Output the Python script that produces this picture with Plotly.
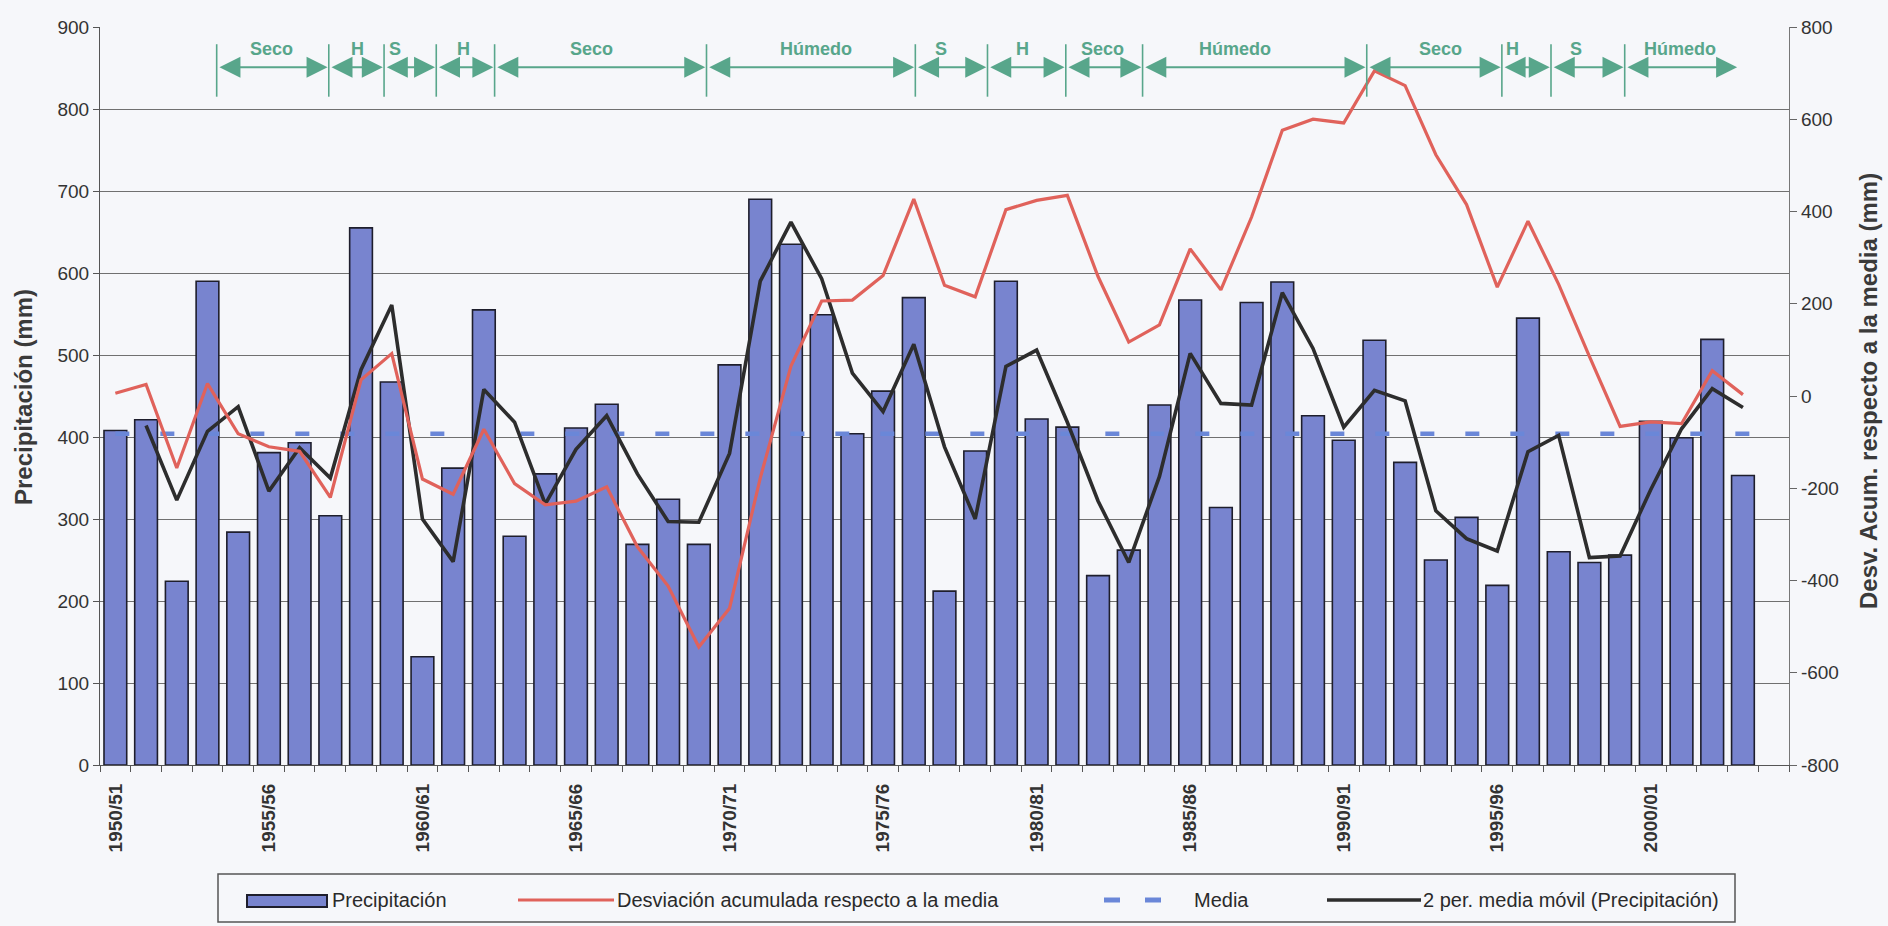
import plotly.graph_objects as go

# Hydrological years (categories of the x axis)
anios = [
    "1950/51", "1951/52", "1952/53", "1953/54", "1954/55", "1955/56", "1956/57", "1957/58",
    "1958/59", "1959/60", "1960/61", "1961/62", "1962/63", "1963/64", "1964/65", "1965/66",
    "1966/67", "1967/68", "1968/69", "1969/70", "1970/71", "1971/72", "1972/73", "1973/74",
    "1974/75", "1975/76", "1976/77", "1977/78", "1978/79", "1979/80", "1980/81", "1981/82",
    "1982/83", "1983/84", "1984/85", "1985/86", "1986/87", "1987/88", "1988/89", "1989/90",
    "1990/91", "1991/92", "1992/93", "1993/94", "1994/95", "1995/96", "1996/97", "1997/98",
    "1998/99", "1999/00", "2000/01", "2001/02", "2002/03", "2003/04", "2004/05",
]

# Annual precipitation (mm)
precipitacion = [
    408, 421, 224, 590, 284, 381, 393, 304, 655, 467,
    132, 362, 555, 279, 355, 411, 440, 269, 324, 269,
    488, 690, 635, 549, 404, 456, 570, 212, 383, 590,
    422, 412, 231, 262, 439, 567, 314, 564, 589, 426,
    396, 518, 369, 250, 302, 219, 545, 260, 247, 256,
    419, 399, 519, 353,
]

# Accumulated deviation from the mean (mm, right axis)
desviacion_acumulada = [
    6, 25, -156, 27, -82, -110, -120, -220, 35, 92,
    -180, -213, -72, -190, -236, -228, -197, -327, -412, -544,
    -460, -178, 65, 206, 208, 261, 427, 240, 215, 404,
    424, 435, 259, 117, 154, 319, 230, 388, 576, 600,
    592, 705, 673, 523, 415, 236, 379, 242, 86, -66,
    -56, -60, 55, 3,
]

# 2-period moving average of precipitation (starts at the second year)
media_movil = [
    414, 323, 407, 437, 334, 387, 350, 482, 561,
    300, 248, 458, 418, 318, 385, 426, 355, 297, 296,
    380, 590, 662, 593, 478, 431, 513, 388, 300, 486,
    506, 418, 322, 247, 352, 502, 441, 439, 576, 508,
    412, 457, 444, 310, 276, 261, 382, 402, 253, 255,
    336, 410, 459, 436,
]

media_precipitacion = 404

# Dry / wet periods drawn across the top band (positions in year index, 0 = 1950/51)
limites_periodo = [3.3, 6.95, 8.75, 10.45, 12.35, 19.25, 26.05, 28.4, 30.95,
                   33.45, 40.75, 45.15, 46.75, 49.15, 52.85]
etiquetas_periodo = ["Seco", "H", "S", "H", "Seco", "Húmedo", "S", "H", "Seco",
                     "Húmedo", "Seco", "H", "S", "Húmedo"]
posicion_etiqueta = [5.1, 7.9, 9.1, 11.33, 15.5, 22.8, 26.9, 29.55, 32.15,
                     36.45, 43.15, 45.5, 47.55, 50.95]

# Tick values for axes
ticks_izq = list(range(0, 901, 100))
ticks_der = list(range(-800, 801, 200))

# Styles
W, H = 1888, 926
L, R, T, B = 100, 1789, 27, 765
FONT = "Arial, Liberation Sans, sans-serif"
C_BAR = "#7884cf"
C_BAR_LINE = "#1e1e2c"
C_RED = "#e0625b"
C_BLACK = "#2d2d2d"
C_MEDIA = "#6a87d8"
C_GREEN = "#58a68b"
C_GRID = "#707070"
C_BG = "#f6f7fa"


def px(x):
    return (x - L) / (R - L)


def py(y):
    return (B - y) / (B - T)


n_cat = len(anios)
x_bar = list(range(len(precipitacion)))
x_mm = list(range(1, 1 + len(media_movil)))

fig = go.Figure()

fig.add_trace(go.Bar(
    x=x_bar, y=precipitacion, name="Precipitación",
    marker=dict(color=C_BAR, line=dict(color=C_BAR_LINE, width=1.6)),
    width=0.74, yaxis="y", showlegend=False,
))
fig.add_trace(go.Scatter(
    x=[0, n_cat - 1], y=[media_precipitacion, media_precipitacion], name="Media",
    mode="lines", line=dict(color=C_MEDIA, width=4.5, dash="14px,31px"),
    yaxis="y", showlegend=False,
))
fig.add_trace(go.Scatter(
    x=x_mm, y=media_movil, name="2 per. media móvil (Precipitación)",
    mode="lines", line=dict(color=C_BLACK, width=3.6),
    yaxis="y", showlegend=False,
))
fig.add_trace(go.Scatter(
    x=x_bar, y=desviacion_acumulada, name="Desviación acumulada respecto a la media",
    mode="lines", line=dict(color=C_RED, width=3.2),
    yaxis="y2", showlegend=False,
))

shapes = []
annotations = []

# Period separators
y_sep0, y_sep1, y_arrow, y_text = 815, 879, 851, 873
for xs in limites_periodo[:-1]:
    shapes.append(dict(type="line", xref="x", yref="y", x0=xs, x1=xs, y0=y_sep0, y1=y_sep1,
                       line=dict(color=C_GREEN, width=1.6)))

# Double-headed arrows and labels
for i, etiqueta in enumerate(etiquetas_periodo):
    a, b = limites_periodo[i], limites_periodo[i + 1]
    annotations.append(dict(
        x=b - 0.04, y=y_arrow, ax=a + 0.04, ay=y_arrow, xref="x", yref="y", axref="x", ayref="y",
        text="", showarrow=True, arrowside="end+start", arrowhead=2, startarrowhead=2,
        arrowsize=2.1, startarrowsize=2.1, arrowwidth=2, arrowcolor=C_GREEN,
        standoff=0, startstandoff=0,
    ))
    annotations.append(dict(
        x=posicion_etiqueta[i], y=y_text, xref="x", yref="y", text="<b>%s</b>" % etiqueta,
        showarrow=False, font=dict(family=FONT, size=18, color=C_GREEN),
        xanchor="center", yanchor="middle",
    ))

# Axis titles
annotations.append(dict(
    x=px(24), y=py(397), xref="paper", yref="paper", text="<b>Precipitación (mm)</b>",
    textangle=-90, showarrow=False, font=dict(family=FONT, size=24, color="#3a3a3a"),
    xanchor="center", yanchor="middle",
))
annotations.append(dict(
    x=px(1868), y=py(391), xref="paper", yref="paper",
    text="<b>Desv. Acum. respecto a la media (mm)</b>",
    textangle=-90, showarrow=False, font=dict(family=FONT, size=24, color="#3a3a3a"),
    xanchor="center", yanchor="middle",
))

# Legend box drawn below the axis
lx0, lx1, ly0, ly1 = 218, 1735, 874, 922
shapes.append(dict(type="rect", xref="paper", yref="paper", x0=px(lx0), x1=px(lx1),
                   y0=py(ly1), y1=py(ly0), line=dict(color="#555555", width=1.5),
                   fillcolor=C_BG))
ly = 900
shapes.append(dict(type="rect", xref="paper", yref="paper", x0=px(247), x1=px(327),
                   y0=py(907), y1=py(895), fillcolor=C_BAR,
                   line=dict(color=C_BAR_LINE, width=2)))
shapes.append(dict(type="line", xref="paper", yref="paper", x0=px(518), x1=px(614),
                   y0=py(ly), y1=py(ly), line=dict(color=C_RED, width=3.2)))
for d0, d1 in [(1104, 1120), (1145, 1161)]:
    shapes.append(dict(type="line", xref="paper", yref="paper", x0=px(d0), x1=px(d1),
                       y0=py(ly), y1=py(ly), line=dict(color=C_MEDIA, width=5)))
shapes.append(dict(type="line", xref="paper", yref="paper", x0=px(1327), x1=px(1421),
                   y0=py(ly), y1=py(ly), line=dict(color=C_BLACK, width=3.6)))

leyenda = [
    (330, "Precipitación"),
    (615, "Desviación acumulada respecto a la media"),
    (1192, "Media"),
    (1421, "2 per. media móvil (Precipitación)"),
]
for xl, txt in leyenda:
    annotations.append(dict(
        x=px(xl), y=py(ly), xref="paper", yref="paper", text=txt, showarrow=False,
        font=dict(family=FONT, size=20, color="#2a2a2a"), xanchor="left", yanchor="middle",
    ))

fig.update_layout(
    width=W, height=H, autosize=False,
    margin=dict(l=L, r=W - R, t=T, b=H - B, pad=0),
    paper_bgcolor=C_BG, plot_bgcolor=C_BG,
    showlegend=False,
    font=dict(family=FONT, size=19, color="#333333"),
    xaxis=dict(
        range=[-0.5, n_cat - 0.5], tickmode="array",
        tickvals=list(range(0, n_cat, 5)), ticktext=[anios[i] for i in range(0, n_cat, 5)],
        tickangle=-90, tickfont=dict(family=FONT, size=19, color="#333333", weight="bold"),
        ticks="outside", ticklen=10, tickcolor="rgba(0,0,0,0)",
        minor=dict(ticks="outside", ticklen=6, tick0=0.5, dtick=1, tickcolor="#555555",
                   showgrid=False),
        showline=True, linecolor="#555555", linewidth=1.2,
        showgrid=False, zeroline=False, automargin=False,
    ),
    yaxis=dict(
        range=[0, 900], tickmode="array", tickvals=ticks_izq,
        ticktext=[str(v) for v in ticks_izq],
        ticks="outside", ticklen=6, tickcolor="#555555",
        tickfont=dict(family=FONT, size=19, color="#333333"),
        showline=True, linecolor="#555555", linewidth=1.2,
        showgrid=True, gridcolor=C_GRID, gridwidth=1, zeroline=False, automargin=False,
    ),
    yaxis2=dict(
        range=[-800, 800], overlaying="y", side="right", tickmode="array",
        tickvals=ticks_der, ticktext=[str(v) for v in ticks_der],
        ticks="outside", ticklen=7, tickcolor="#666666",
        tickfont=dict(family=FONT, size=19, color="#333333"),
        showline=True, linecolor="#777777", linewidth=1.2,
        showgrid=False, zeroline=False, automargin=False,
    ),
    shapes=shapes,
    annotations=annotations,
)

fig.write_html("out.html")
